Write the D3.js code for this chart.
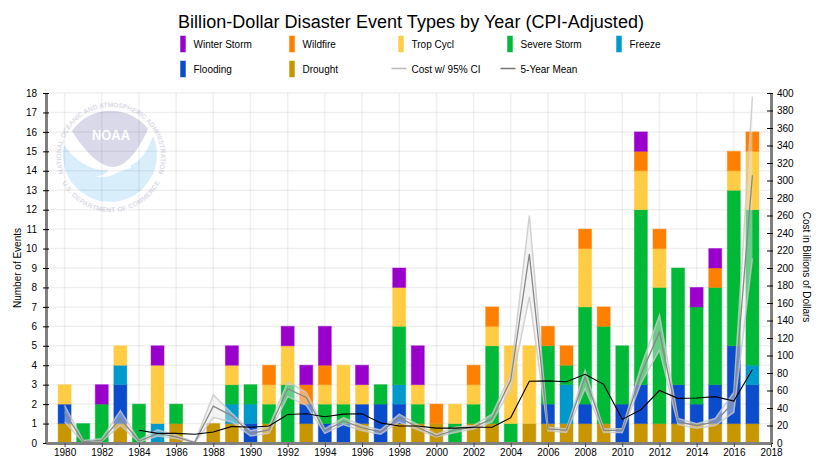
<!DOCTYPE html>
<html><head><meta charset="utf-8">
<script src="https://cdn.jsdelivr.net/npm/d3@7"></script>
<style>
html,body{margin:0;padding:0;background:#fff}
svg{display:block}
text{font-family:"Liberation Sans",Arial,sans-serif;fill:#000}
</style></head><body><svg id="c" width="826" height="462"></svg>
<script>
const years=d3.range(1980,2018);
const drought =[1,0,0,1,0,0,1,0,1,1,0,1,0,1,0,0,1,0,1,1,1,0,1,1,0,1,1,1,1,1,0,1,1,1,1,1,1,1];
const flooding=[1,0,0,2,0,0,0,0,0,0,1,0,0,1,1,1,1,2,1,0,0,0,0,0,0,0,1,0,1,0,2,2,0,2,1,2,4,2];
const freeze  =[0,0,0,1,0,1,0,0,0,1,1,0,0,0,0,0,0,0,1,0,0,0,0,0,0,0,0,2,0,0,0,0,0,0,0,0,0,1];
const severe  =[0,1,2,0,2,0,1,0,0,1,1,1,3,0,1,1,0,1,3,1,0,1,1,4,1,0,3,1,5,5,3,9,7,6,5,5,8,8];
const trop    =[1,0,0,1,0,3,0,0,0,1,0,1,2,0,1,2,1,0,2,1,0,1,1,1,4,4,0,0,3,0,0,2,2,0,0,0,1,3];
const wildfire=[0,0,0,0,0,0,0,0,0,0,0,1,0,1,1,0,0,0,0,0,1,0,1,1,0,0,1,1,1,1,0,1,1,0,0,1,1,1];
const winter  =[0,0,1,0,0,1,0,0,0,1,0,0,1,1,2,0,1,0,1,2,0,0,0,0,0,0,0,0,0,0,0,1,0,0,1,1,0,0];
const costMean =[35,1.5,3,28,2,11,7,0.5,42,31,11,15,62,52,14,25,17.5,12.5,29,18,8,15,18,28,72,216,16,14.5,75,14.5,14.5,78,127,24,20,24,47,306];
const costUpper=[43,3,5,37,3,15,9,1,55,34,14,19,70,58,16,29,20,15,33,21,10,18,20,33,79,260,18,16,83,16,16.5,87,146,28,22,28,58,396];
const costLower=[24,1,2,20,1,8,5,0,29,24,8,11,53,43,11,21,14,10,24,15,7,12,16,24,62,167,14,12,62,12,12,68,106,21,17,20,35,211];
const meanYears=d3.range(1984,2018);
const fiveYearMean=[14.5,11,11,10,12.5,19,18,19.5,32.5,33.5,30,33,33.5,23,19.5,19.5,17,17,18,18,29,70.5,71,70,78.5,67,27,38,60,51,51.5,53,48,84];
const eventTicks=d3.range(0,19);
const costTicks=d3.range(0,401,20);
const yearTicks=d3.range(1980,2019,2);
const seriesNames=["Drought","Flooding","Freeze","Severe Storm","Trop Cycl","Wildfire","Winter Storm"];
const seriesColors=["#c89600","#0a4ccc","#0099cc","#00b937","#ffcc44","#ff8000","#9900cc"];
const seriesValues=[drought,flooding,freeze,severe,trop,wildfire,winter];
const legendOrder=["Winter Storm","Wildfire","Trop Cycl","Severe Storm","Freeze","Flooding","Drought"];
const titleText="Billion-Dollar Disaster Event Types by Year (CPI-Adjusted)";

const svg=d3.select("#c");
const m={l:46.5,r:770.5,t:93,b:443};
const x=d3.scaleLinear().domain([1979,2018]).range([46,771]);
const yE=d3.scaleLinear().domain([0,18]).range([m.b,m.t]);
const yC=d3.scaleLinear().domain([0,400]).range([m.b,m.t]);
const color=d3.scaleOrdinal(seriesNames,seriesColors);

// logo
const logo=svg.append("g").attr("transform","translate(111,157)");
const defs=svg.append("defs");
defs.append("path").attr("id","arcTop").attr("d","M-47,17 A50,50 0 1 1 47,17");
defs.append("path").attr("id","arcBot").attr("d","M-50,23 A55,55 0 0 0 50,23");
logo.append("path").attr("fill","#d9d9ea")
  .attr("d","M-39,-26 A47,47 0 0 1 37,-28 C29,-10 16,10 2,10 C-12,10 -28,-8 -39,-26Z");
logo.append("path").attr("fill","#d8eefb")
  .attr("d","M-47,-12 C-36,4 -20,13 -8,13 L18,9 C31,5 38,-10 42,-21 A47,47 0 1 1 -47,-12Z");
logo.append("path").attr("fill","#fff")
  .attr("d","M-16,20 C-4,17 2,13 -8,12 L20,9 L20,11 C12,13 6,16 2,18 C-3,20 -10,20 -16,20Z");
logo.append("text").attr("y",-17).attr("text-anchor","middle").attr("font-size",14).attr("font-weight","bold")
  .attr("textLength",38).attr("lengthAdjust","spacingAndGlyphs").style("fill","#fff").text("NOAA");
logo.append("text").attr("font-size",6.6).attr("font-weight","bold").style("fill","#dcdce6")
  .append("textPath").attr("href","#arcTop").attr("startOffset","50%").attr("text-anchor","middle")
  .attr("textLength",190).text("NATIONAL OCEANIC AND ATMOSPHERIC ADMINISTRATION");
logo.append("text").attr("font-size",6.6).attr("font-weight","bold").style("fill","#dcdce6")
  .append("textPath").attr("href","#arcBot").attr("startOffset","50%").attr("text-anchor","middle")
  .attr("textLength",120).text("U.S. DEPARTMENT OF COMMERCE");

// grid
const grid=svg.append("g").attr("stroke","#000").attr("stroke-opacity",.06).attr("stroke-width",1.5);
grid.selectAll(".h").data(eventTicks.slice(1)).join("line")
  .attr("x1",m.l).attr("x2",m.r).attr("y1",d=>yE(d)).attr("y2",d=>yE(d));
grid.selectAll(".v").data(yearTicks.slice(0,-1)).join("line")
  .attr("y1",m.t).attr("y2",m.b).attr("x1",d=>x(d)).attr("x2",d=>x(d));

// stacked bars
const rows=years.map((yr,i)=>{const r={year:yr};seriesNames.forEach((n,k)=>r[n]=seriesValues[k][i]);return r;});
const stacked=d3.stack().keys(seriesNames)(rows);
svg.append("g").selectAll("g").data(stacked).join("g")
  .attr("fill",d=>color(d.key)).attr("stroke",d=>color(d.key)).attr("stroke-opacity",.45).attr("stroke-width",1)
  .selectAll("rect").data(d=>d.filter(s=>s[1]>s[0])).join("rect")
  .attr("x",d=>x(d.data.year)-6.5).attr("width",13)
  .attr("y",d=>yE(d[1])).attr("height",d=>yE(d[0])-yE(d[1]));

// CI band and lines
const idx=years.map((_,i)=>i);
svg.append("path").datum(idx)
  .attr("fill","#e6e6e6").attr("fill-opacity",.45)
  .attr("d",d3.area().x(i=>x(years[i])).y0(i=>yC(costLower[i])).y1(i=>yC(costUpper[i])));
const ln=arr=>d3.line().x(i=>x(years[i])).y(i=>yC(arr[i]));
[costUpper,costLower].forEach(a=>svg.append("path").datum(idx).attr("fill","none")
  .attr("stroke","#c8c8c8").attr("stroke-opacity",.8).attr("stroke-width",1.5).attr("d",ln(a)));
svg.append("path").datum(idx).attr("fill","none").attr("stroke","#888").attr("stroke-width",1.3).attr("d",ln(costMean));
svg.append("path").datum(meanYears.map((_,i)=>i)).attr("fill","none").attr("stroke","#000").attr("stroke-width",1.1)
  .attr("d",d3.line().x(i=>x(meanYears[i])).y(i=>yC(fiveYearMean[i])));

// axes
function styleAxis(g){
  g.selectAll("text").attr("font-size",10).style("font-family",'"Liberation Sans",Arial,sans-serif');
  g.selectAll(".tick line").attr("stroke","#000");
  g.select(".domain").attr("stroke","#808080").attr("stroke-width",3);
}
svg.append("g").attr("transform","translate(46,0)")
  .call(d3.axisLeft(yE).tickValues(eventTicks).tickFormat(d3.format("d")).tickSize(4).tickSizeOuter(0).tickPadding(5))
  .call(styleAxis).call(g=>g.selectAll(".tick line").attr("x1",-3).attr("x2",3));
svg.append("g").attr("transform","translate(771,0)")
  .call(d3.axisRight(yC).tickValues(costTicks).tickFormat(d3.format("d")).tickSize(4).tickSizeOuter(0).tickPadding(2))
  .call(styleAxis).call(g=>g.selectAll(".tick line").attr("x1",-4).attr("x2",2));
svg.append("g").attr("transform","translate(0,443)")
  .call(d3.axisBottom(x).tickValues(yearTicks).tickFormat(d3.format("d")).tickSize(4).tickSizeOuter(0).tickPadding(2))
  .call(styleAxis).call(g=>g.selectAll(".tick line").attr("stroke","#444"));

// titles
svg.append("text").attr("x",411).attr("y",28).attr("text-anchor","middle").attr("font-size",18).attr("textLength",466).text(titleText);
svg.append("text").attr("transform","translate(21,268) rotate(-90)").attr("text-anchor","middle").attr("font-size",10).text("Number of Events");
svg.append("text").attr("transform","translate(803,267) rotate(90)").attr("text-anchor","middle").attr("font-size",10).text("Cost in Billions of Dollars");

// legend
const colX=d3.scaleLinear().domain([0,1]).range([193.5,302.5]);
const rowY=d3.scaleLinear().domain([0,1]).range([44,69]);
const lg=svg.append("g");
const items=legendOrder.map((n,i)=>({name:n,col:i%5,row:i<5?0:1,kind:"bar"}));
items.push({name:"Cost w/ 95% CI",col:2,row:1,kind:"line",stroke:"#bbb"});
items.push({name:"5-Year Mean",col:3,row:1,kind:"line",stroke:"#777"});
items.forEach(it=>{
  const lx=colX(it.col),ly=rowY(it.row);
  if(it.kind==="bar"){
    lg.append("rect").attr("x",lx-13).attr("y",ly-8).attr("width",5).attr("height",16)
      .attr("fill",color(it.name)).attr("stroke",color(it.name)).attr("stroke-opacity",.45);
  }else{
    lg.append("line").attr("x1",lx-20).attr("x2",lx-5).attr("y1",ly-.5).attr("y2",ly-.5)
      .attr("stroke",it.stroke).attr("stroke-width",1.5);
  }
  lg.append("text").attr("x",lx).attr("y",ly+3.5).attr("font-size",10).text(it.name);
});
</script></body></html>
